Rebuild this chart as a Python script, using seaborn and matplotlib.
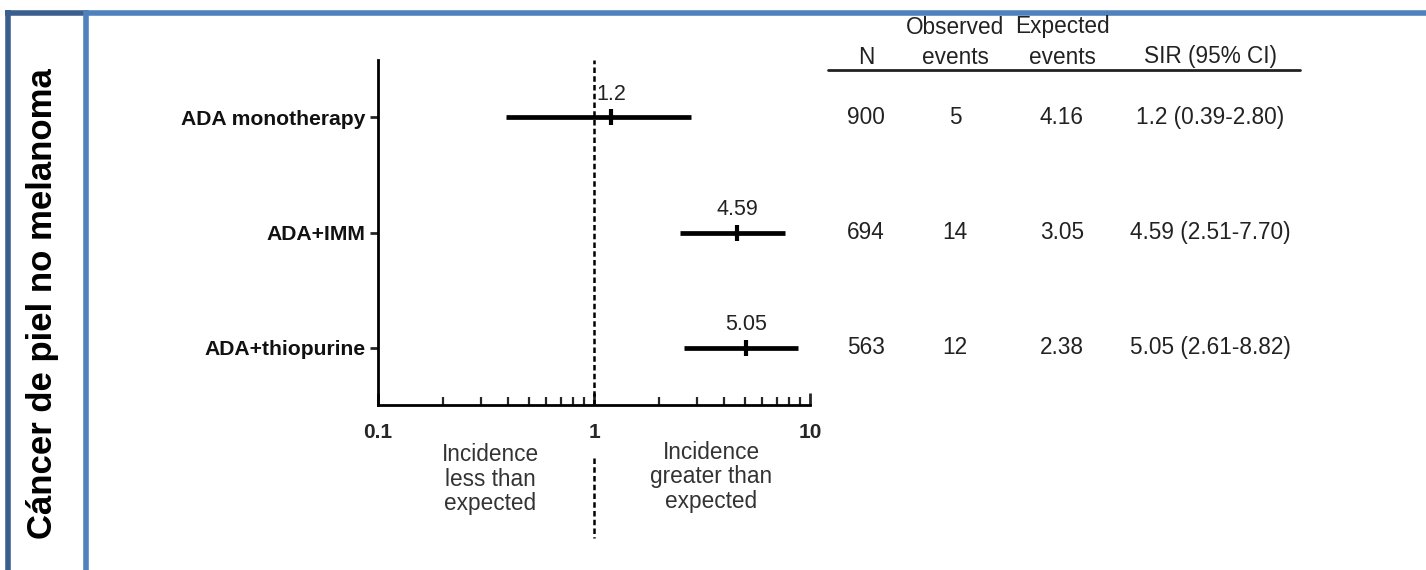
import matplotlib
matplotlib.use("Agg")
import matplotlib.pyplot as plt
import matplotlib.transforms as mtransforms
from matplotlib.lines import Line2D
from matplotlib.ticker import LogLocator, NullFormatter, FixedLocator, FixedFormatter
import seaborn as sns
import numpy as np
import pandas as pd

# ---- data ----
groups = ["ADA monotherapy", "ADA+IMM", "ADA+thiopurine"]
sir = [1.2, 4.59, 5.05]
ci_low = [0.39, 2.51, 2.61]
ci_high = [2.80, 7.70, 8.82]
sir_labels = ["1.2", "4.59", "5.05"]
n_pat = ["900", "694", "563"]
observed = ["5", "14", "12"]
expected = ["4.16", "3.05", "2.38"]
sir_ci = ["1.2 (0.39-2.80)", "4.59 (2.51-7.70)", "5.05 (2.61-8.82)"]
xtick_vals = [0.1, 1, 10]
xtick_labels = ["0.1", "1", "10"]
side_title = "Cáncer de piel no melanoma"

df = pd.DataFrame({"group": groups, "sir": sir, "lo": ci_low, "hi": ci_high})
df["pos"] = np.arange(len(df))

sns.set_theme(style="white")
plt.rcParams['font.family'] = ['Liberation Sans', 'DejaVu Sans']

W, H = 1426, 570
fig = plt.figure(figsize=(W / 100, H / 100), dpi=100)
ax = fig.add_axes([378 / W, 1 - 405 / H, 432 / W, 345 / H])
ax.set_xscale("log")
ax.set_xlim(0.1, 10)
ax.set_ylim(2.494, -0.494)

# reference line at 1
ax.axvline(1, color="black", lw=1.8, linestyle=(0, (2.2, 1.3)), zorder=1)

# CI lines
ax.hlines(df["pos"], df["lo"], df["hi"], color="black", lw=3.4, zorder=3)
# point estimates
sns.scatterplot(data=df, x="sir", y="pos", marker="|", s=140, linewidth=3.0,
                color="black", ax=ax, zorder=4, legend=False)
for i, r in df.iterrows():
    ax.annotate(sir_labels[i], (r["sir"], r["pos"]), xytext=(0, 9),
                textcoords="offset points", ha="center", va="bottom",
                fontsize=15.5, color="#222222")

# axes styling
for s in ["top", "right"]:
    ax.spines[s].set_visible(False)
for s in ["left", "bottom"]:
    ax.spines[s].set_linewidth(2.0)
    ax.spines[s].set_color("black")
ax.set_yticks(df["pos"])
ax.set_yticklabels(groups, fontsize=15.2, fontweight="bold", color="#111111")
ax.tick_params(axis="y", direction="out", length=6, width=2, pad=3, left=True)
ax.xaxis.set_major_locator(FixedLocator(xtick_vals))
ax.xaxis.set_major_formatter(FixedFormatter(xtick_labels))
ax.xaxis.set_minor_locator(LogLocator(base=10, subs=np.arange(2, 10)))
ax.xaxis.set_minor_formatter(NullFormatter())
ax.tick_params(axis="x", which="major", direction="in", length=9, width=2,
               pad=13, bottom=True, labelsize=15)
ax.tick_params(axis="x", which="minor", direction="in", length=6, width=1.6, bottom=True)
for t in ax.get_xticklabels():
    t.set_fontweight("bold")
ax.set_xlabel("")
ax.set_ylabel("")

# dashed continuation below the axis
blend = mtransforms.blended_transform_factory(ax.transData, fig.transFigure)
ax.plot([1, 1], [1 - 458 / H, 1 - 538 / H], transform=blend, color="black",
        lw=1.8, linestyle=(0, (2.2, 1.3)), clip_on=False)

fig.text(490 / W, 1 - 479 / H, "Incidence\nless than\nexpected", ha="center",
         va="center", fontsize=16.3, color="#333333", linespacing=1.1)
fig.text(711 / W, 1 - 477 / H, "Incidence\ngreater than\nexpected", ha="center",
         va="center", fontsize=16.3, color="#333333", linespacing=1.1)

# table
tblend = mtransforms.blended_transform_factory(fig.transFigure, ax.transData)
cols_x = [866, 955, 1062, 1210]
for i in range(len(groups)):
    for cx, val in zip(cols_x, [n_pat[i], observed[i], expected[i], sir_ci[i]]):
        ax.text(cx / W, i, val, transform=tblend, ha="center", va="center",
                fontsize=16.3, color="#222222", clip_on=False)
hdr = [("N", 866, 57), ("Observed", 955, 27), ("events", 955, 57),
       ("Expected", 1062, 27), ("events", 1062, 57), ("SIR (95% CI)", 1210, 57)]
for txt, x, y in hdr:
    fig.text(x / W, 1 - y / H, txt, ha="center", va="center", fontsize=16.3,
             color="#222222")
fig.add_artist(Line2D([828 / W, 1300 / W], [1 - 70 / H, 1 - 70 / H],
                      color="#222222", lw=2.0))

# frame
dark, light = "#3A5F8F", "#4F81BD"
fig.add_artist(Line2D([85.5 / W, 1], [1 - 12.5 / H] * 2, color=light, lw=4.0,
                      solid_capstyle="butt"))
fig.add_artist(Line2D([5 / W, 85.5 / W], [1 - 12.5 / H] * 2, color=dark, lw=4.0,
                      solid_capstyle="butt"))
fig.add_artist(Line2D([7.5 / W] * 2, [0, 1 - 10 / H], color=dark, lw=4.0,
                      solid_capstyle="butt"))
fig.add_artist(Line2D([85.5 / W] * 2, [0, 1 - 10 / H], color=light, lw=4.0,
                      solid_capstyle="butt"))

fig.text(43 / W, 1 - 304 / H, side_title, rotation=90, ha="center", va="center",
         fontsize=25, fontweight="bold", color="black")

fig.savefig("out.png", dpi=100)
